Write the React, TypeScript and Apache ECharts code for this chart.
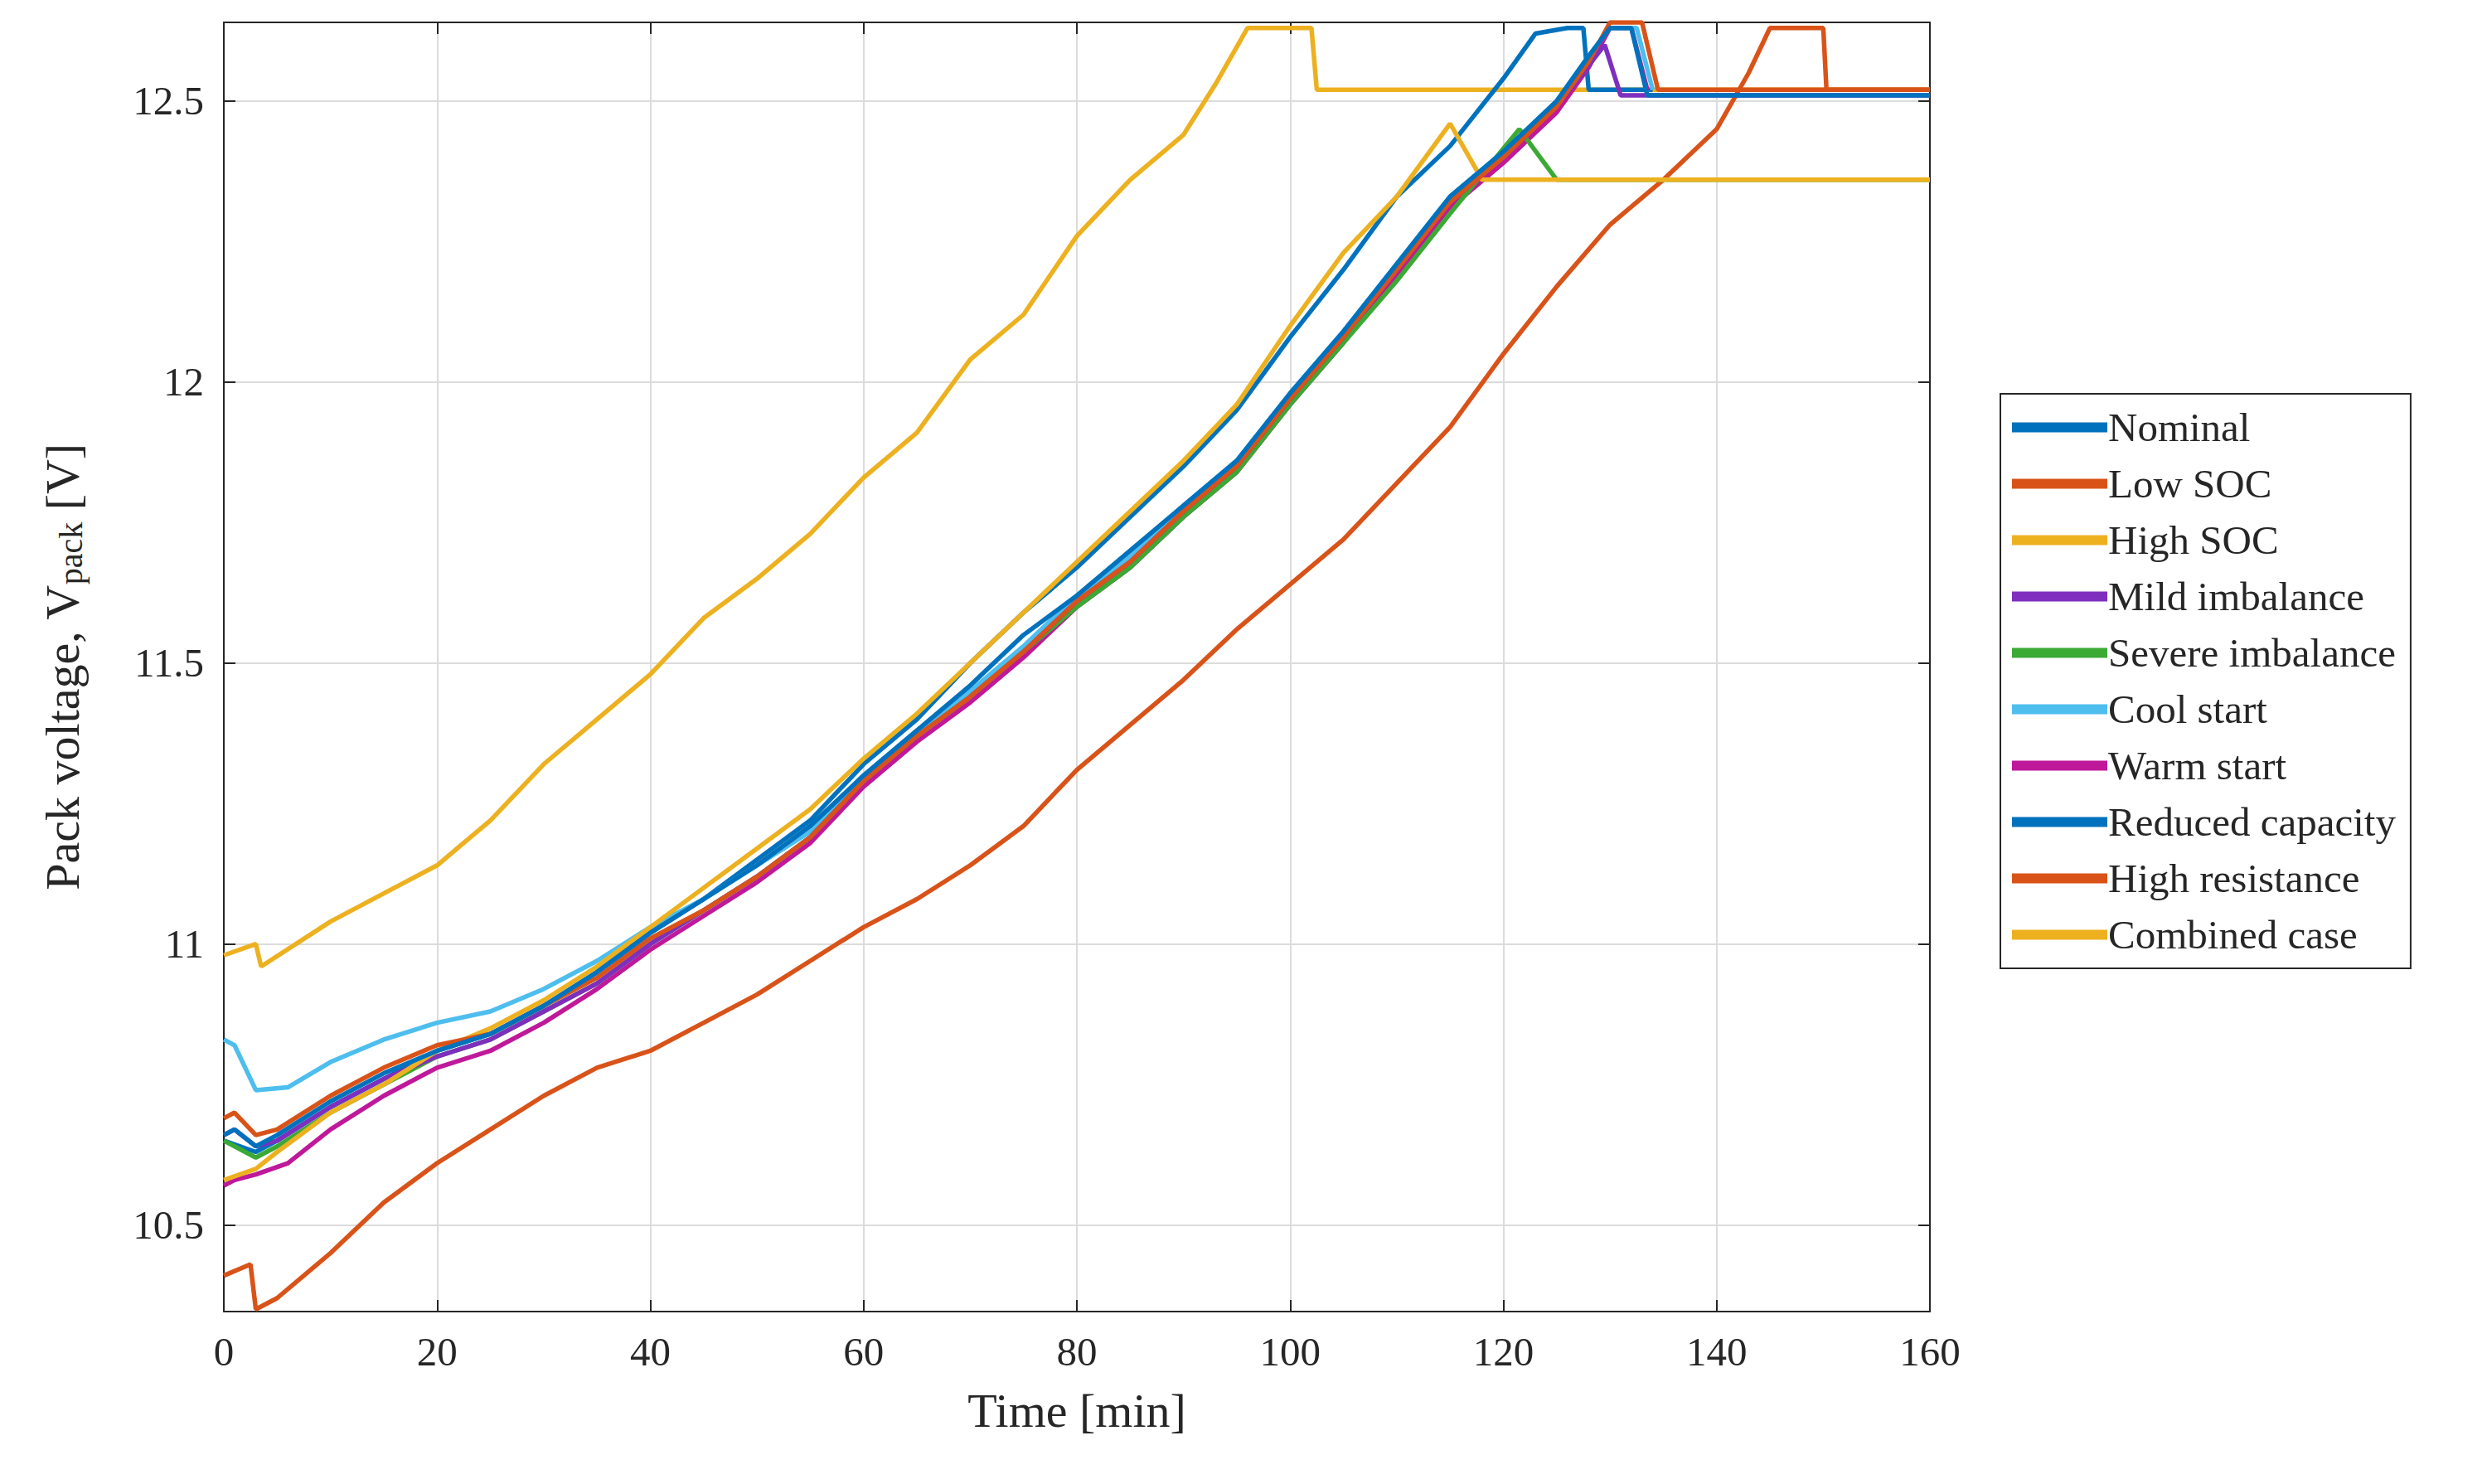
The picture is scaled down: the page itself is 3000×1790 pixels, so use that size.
import React, { useEffect, useRef } from 'react';
import * as echarts from 'echarts';

const seriesNames = ['Nominal', 'Low SOC', 'High SOC', 'Mild imbalance', 'Severe imbalance', 'Cool start', 'Warm start', 'Reduced capacity', 'High resistance', 'Combined case'];
const colors = ['#0072BD', '#D95319', '#EDB120', '#7E2FBE', '#3AAA35', '#4DBEEE', '#C0189A', '#0072BD', '#D95319', '#EDB120'];
const yTicks = [10.5, 11, 11.5, 12, 12.5];

// [time min, voltage V]
const nominal = [[0, 10.66], [1, 10.67], [3, 10.64], [5, 10.66], [10, 10.72], [15, 10.77], [20, 10.81], [25, 10.84], [30, 10.89], [35, 10.95], [40, 11.02], [45, 11.08], [50, 11.14], [55, 11.21], [60, 11.3], [65, 11.38], [70, 11.46], [75, 11.55], [80, 11.62], [85, 11.7], [90, 11.78], [95, 11.86], [100, 11.98], [105, 12.09], [110, 12.21], [115, 12.33], [120, 12.41], [125, 12.5], [128, 12.58], [130, 12.63], [132, 12.63], [133.5, 12.51], [160, 12.51]];
const lowSoc = [[0, 10.69], [1, 10.7], [3, 10.66], [5, 10.67], [10, 10.73], [15, 10.78], [20, 10.82], [25, 10.84], [30, 10.89], [35, 10.94], [40, 11.01], [45, 11.06], [50, 11.12], [55, 11.19], [60, 11.29], [65, 11.37], [70, 11.44], [75, 11.52], [80, 11.61], [85, 11.68], [90, 11.77], [95, 11.85], [100, 11.97], [105, 12.08], [110, 12.2], [115, 12.32], [120, 12.4], [125, 12.49], [128, 12.57], [130, 12.64], [133, 12.64], [134.5, 12.52], [160, 12.52]];
const highSoc = [[0, 10.58], [3, 10.6], [5, 10.63], [10, 10.7], [15, 10.75], [20, 10.81], [25, 10.85], [30, 10.9], [35, 10.96], [40, 11.03], [45, 11.1], [50, 11.17], [55, 11.24], [60, 11.33], [65, 11.41], [70, 11.5], [75, 11.59], [80, 11.68], [85, 11.77], [90, 11.86], [95, 11.96], [100, 12.1], [105, 12.23], [110, 12.33], [115, 12.46], [118, 12.36], [160, 12.36]];
const mild = [[0, 10.66], [1, 10.67], [3, 10.64], [5, 10.65], [10, 10.71], [15, 10.76], [20, 10.8], [25, 10.83], [30, 10.88], [35, 10.93], [40, 11.0], [45, 11.06], [50, 11.12], [55, 11.19], [60, 11.29], [65, 11.37], [70, 11.44], [75, 11.52], [80, 11.61], [85, 11.68], [90, 11.77], [95, 11.85], [100, 11.97], [105, 12.08], [110, 12.2], [115, 12.32], [120, 12.4], [125, 12.49], [129.5, 12.6], [131, 12.51], [160, 12.51]];
const severe = [[0, 10.65], [3, 10.62], [5, 10.64], [10, 10.7], [15, 10.75], [20, 10.8], [25, 10.83], [30, 10.88], [35, 10.93], [40, 11.0], [45, 11.06], [50, 11.12], [55, 11.19], [60, 11.29], [65, 11.37], [70, 11.44], [75, 11.52], [80, 11.6], [85, 11.67], [90, 11.76], [95, 11.84], [100, 11.96], [105, 12.07], [110, 12.18], [115, 12.3], [121.5, 12.45], [125, 12.36], [160, 12.36]];
const cool = [[0, 10.83], [1, 10.82], [3, 10.74], [6, 10.745], [10, 10.79], [15, 10.83], [20, 10.86], [25, 10.88], [30, 10.92], [35, 10.97], [40, 11.03], [45, 11.08], [50, 11.14], [55, 11.2], [60, 11.3], [65, 11.38], [70, 11.45], [75, 11.53], [80, 11.62], [85, 11.69], [90, 11.78], [95, 11.86], [100, 11.98], [105, 12.09], [110, 12.21], [115, 12.33], [120, 12.41], [125, 12.5], [128, 12.58], [130, 12.63], [132.5, 12.63], [134, 12.52]];
const warm = [[0, 10.57], [1, 10.58], [3, 10.59], [6, 10.61], [10, 10.67], [15, 10.73], [20, 10.78], [25, 10.81], [30, 10.86], [35, 10.92], [40, 10.99], [45, 11.05], [50, 11.11], [55, 11.18], [60, 11.28], [65, 11.36], [70, 11.43], [75, 11.51], [80, 11.6], [85, 11.67], [90, 11.76], [95, 11.84], [100, 11.96], [105, 12.07], [110, 12.19], [115, 12.31], [120, 12.39], [125, 12.48], [128, 12.56], [130, 12.63], [132, 12.63], [133.5, 12.52]];
const reduced = [[0, 10.65], [3, 10.63], [5, 10.65], [10, 10.71], [15, 10.76], [20, 10.81], [25, 10.84], [30, 10.89], [35, 10.95], [40, 11.02], [45, 11.08], [50, 11.15], [55, 11.22], [60, 11.32], [65, 11.4], [70, 11.5], [75, 11.59], [80, 11.67], [85, 11.76], [90, 11.85], [95, 11.95], [100, 12.08], [105, 12.2], [110, 12.33], [115, 12.42], [120, 12.54], [123, 12.62], [126, 12.63], [127.5, 12.63], [128, 12.52], [134, 12.52]];
const highRes = [[0, 10.41], [2.5, 10.43], [3, 10.35], [5, 10.37], [10, 10.45], [15, 10.54], [20, 10.61], [25, 10.67], [30, 10.73], [35, 10.78], [40, 10.81], [45, 10.86], [50, 10.91], [55, 10.97], [60, 11.03], [65, 11.08], [70, 11.14], [75, 11.21], [80, 11.31], [85, 11.39], [90, 11.47], [95, 11.56], [100, 11.64], [105, 11.72], [110, 11.82], [115, 11.92], [120, 12.05], [125, 12.17], [130, 12.28], [135, 12.36], [140, 12.45], [143, 12.55], [145, 12.63], [150, 12.63], [150.3, 12.52], [160, 12.52]];
const combined = [[0, 10.98], [3, 11.0], [3.5, 10.96], [10, 11.04], [15, 11.09], [20, 11.14], [25, 11.22], [30, 11.32], [35, 11.4], [40, 11.48], [45, 11.58], [50, 11.65], [55, 11.73], [60, 11.83], [65, 11.91], [70, 12.04], [75, 12.12], [80, 12.26], [85, 12.36], [90, 12.44], [93, 12.53], [96, 12.63], [102, 12.63], [102.5, 12.52], [160, 12.52]];

const allData = [nominal, lowSoc, highSoc, mild, severe, cool, warm, reduced, highRes, combined];

const font = 'Liberation Serif, Times New Roman, serif';

const App: React.FC = () => {
  const chartRef = useRef<HTMLDivElement>(null);

  useEffect(() => {
    if (!chartRef.current) return;
    const chart = echarts.init(chartRef.current, undefined, { renderer: 'svg' });
    const gridLine = { show: true, lineStyle: { color: '#dcdcdc', width: 2 } };
    const tickIn = { show: true, inside: true, length: 14, lineStyle: { color: '#262626', width: 2 } };
    const yTickIn = { ...tickIn, customValues: yTicks };
    const axisLine = { show: true, onZero: false, lineStyle: { color: '#262626', width: 2 } };
    chart.setOption({
      animation: false,
      textStyle: { fontFamily: font },
      grid: { left: 262, right: 664, top: 19, bottom: 200 },
      legend: {
        data: seriesNames,
        orient: 'vertical',
        left: 2405,
        top: 467,
        padding: [16, 18, 16, 14],
        borderColor: '#262626',
        borderWidth: 2,
        itemWidth: 115,
        itemHeight: 12,
        itemGap: 19,
        icon: 'rect',
        textStyle: { fontFamily: font, fontSize: 49, color: '#262626', padding: [0, 0, 0, -4] },
      },
      xAxis: [
        {
          type: 'value', min: 0, max: 160, interval: 20,
          name: 'Time [min]', nameLocation: 'middle', nameGap: 90,
          nameTextStyle: { fontFamily: font, fontSize: 58, color: '#262626' },
          axisLabel: { fontFamily: font, fontSize: 49, color: '#262626', margin: 24 },
          axisLine, axisTick: tickIn, splitLine: gridLine,
        },
        {
          type: 'value', min: 0, max: 160, interval: 20, position: 'top',
          axisLabel: { show: false }, axisLine, axisTick: tickIn, splitLine: { show: false },
        },
      ],
      yAxis: [
        {
          type: 'value', min: 10.346, max: 12.64,
          name: 'Pack voltage, V{sub|pack} [V]', nameLocation: 'middle', nameGap: 165, nameRotate: 90,
          nameTextStyle: {
            fontFamily: font, fontSize: 58, color: '#262626',
            rich: { sub: { fontFamily: font, fontSize: 40, color: '#262626', verticalAlign: 'bottom', padding: [20, 0, 0, 0] } },
          },
          axisLabel: { fontFamily: font, fontSize: 49, color: '#262626', margin: 24, customValues: yTicks },
          axisLine, axisTick: yTickIn, splitLine: gridLine,
        },
        {
          type: 'value', min: 10.346, max: 12.64, position: 'right',
          axisLabel: { show: false, customValues: yTicks }, axisLine, axisTick: yTickIn, splitLine: { show: false },
        },
      ],
      series: seriesNames.map((name, i) => ({
        name,
        type: 'line',
        data: allData[i],
        showSymbol: false,
        symbol: 'none',
        color: colors[i],
        lineStyle: { width: 5.5, color: colors[i] },
        z: 10 - i,
      })),
    });
    return () => chart.dispose();
  }, []);

  return <div ref={chartRef} style={{ width: 2984, height: 1774 }} />;
};

export default App;
